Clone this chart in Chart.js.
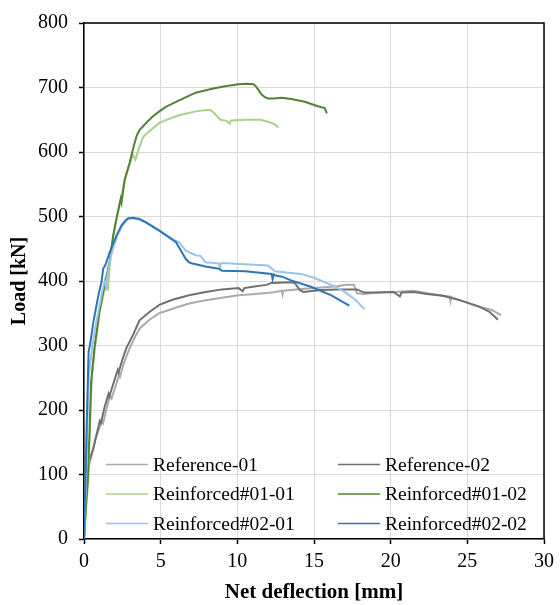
<!DOCTYPE html>
<html>
<head>
<meta charset="utf-8">
<script src="https://cdn.jsdelivr.net/npm/chart.js@4"></script>
<style>
  html, body { margin: 0; padding: 0; background: #fff; }
  #wrap { width: 560px; height: 605px; }
</style>
</head>
<body>
<div id="wrap"><canvas id="c" width="560" height="605"></canvas></div>
<script>
// ---- data (net deflection [mm], load [kN]) ----
const seriesLabels = ['Reference-01', 'Reference-02', 'Reinforced#01-01', 'Reinforced#01-02', 'Reinforced#02-01', 'Reinforced#02-02'];

const ref01X = [0, 0.12, 0.3, 0.5, 0.75, 1.0, 1.2, 1.25, 1.45, 1.7, 1.8, 2.1, 2.3, 2.35, 2.6, 2.98, 3.3, 3.62, 4.27, 4.91, 5.77, 6.85, 7.93, 9.0, 10.08, 11.2, 12.24, 12.9, 12.95, 13.0, 14.4, 15.5, 16.5, 17.1, 17.6, 17.7, 17.8, 18.3, 19.1, 20.2, 21.5, 22.4, 23.4, 23.85, 23.9, 23.95, 24.55, 25.2, 25.8, 26.6, 27.2];
const ref01Y = [0, 70, 112, 130, 155, 172, 183, 180, 200, 222, 218, 240, 256, 252, 273, 296, 312, 326, 340, 350, 357, 365, 370, 374, 378, 380, 382, 385, 379, 385, 388, 390, 392, 394, 394, 388, 381, 380, 382, 383, 385, 381, 377, 376, 369, 375, 370, 365, 360, 355, 347];

const ref02X = [0, 0.1, 0.34, 0.6, 0.85, 1.03, 1.1, 1.35, 1.6, 1.65, 1.9, 2.2, 2.25, 2.5, 2.76, 3.19, 3.62, 4.27, 4.91, 5.77, 6.85, 7.93, 9.0, 10.08, 10.35, 10.45, 11.0, 11.9, 12.24, 13.5, 13.75, 14.07, 14.3, 15.47, 16.5, 17.8, 18.27, 19.13, 20.2, 20.6, 20.7, 21.5, 22.37, 23.4, 24.55, 25.17, 25.8, 26.46, 27.0];
const ref02Y = [0, 70, 121, 140, 165, 183, 180, 205, 225, 221, 240, 262, 258, 278, 296, 316, 339, 352, 363, 371, 378, 383, 387, 389, 384, 389, 391, 394, 397, 398, 397, 386, 383, 386, 387, 387, 382, 382, 383, 376, 382, 383, 380, 377, 370, 365, 360, 352, 340];

const r101X = [0, 0.15, 0.28, 0.39, 0.5, 0.71, 1.03, 1.3, 1.5, 1.55, 1.68, 1.9, 2.11, 2.33, 2.65, 2.97, 3.19, 3.35, 3.5, 3.83, 4.05, 4.91, 5.5, 6.2, 7.28, 8.0, 8.25, 8.5, 8.9, 9.3, 9.5, 9.6, 10.5, 11.5, 12.0, 12.45, 12.67];
const r101Y = [0, 50, 91, 168, 245, 296, 352, 383, 395, 385, 425, 468, 494, 519, 555, 580, 596, 588, 600, 622, 628, 645, 651, 657, 663, 665, 665, 660, 650, 648, 644, 649, 650, 650, 647, 643, 638];

const r102X = [0, 0.12, 0.25, 0.36, 0.47, 0.68, 1.0, 1.25, 1.45, 1.68, 1.9, 2.11, 2.33, 2.4, 2.45, 2.65, 2.97, 3.15, 3.3, 3.45, 3.62, 4.05, 4.48, 4.91, 5.34, 6.2, 7.28, 8.36, 9.2, 10.08, 10.6, 11.05, 11.2, 11.35, 11.55, 11.8, 12.0, 12.4, 12.9, 13.5, 14.0, 14.4, 15.25, 15.7, 15.84];
const r102Y = [0, 50, 91, 168, 245, 296, 352, 383, 405, 432, 470, 496, 521, 528, 522, 557, 583, 600, 614, 626, 634, 645, 655, 663, 670, 680, 692, 698, 702, 705, 706, 705, 702, 697, 690, 685, 683, 683, 684, 682, 680, 678, 671, 668, 660];

const r201X = [0, 0.15, 0.25, 0.35, 0.4, 0.55, 0.75, 1.0, 1.2, 1.35, 1.45, 1.5, 1.75, 2.0, 2.2, 2.5, 2.9, 3.2, 3.62, 4.05, 4.91, 6.0, 6.2, 6.64, 7.28, 7.6, 7.92, 8.5, 8.8, 8.86, 8.92, 9.0, 10.5, 12.0, 12.45, 13.2, 14.17, 15.0, 15.7, 16.4, 17.0, 17.7, 18.3];
const r201Y = [0, 100, 200, 278, 270, 300, 330, 360, 385, 400, 392, 405, 438, 458, 472, 486, 497, 497, 495, 490, 478, 462, 460, 447, 440, 439, 429, 428, 427, 421, 427, 428, 426, 424, 415, 413, 411, 405, 398, 391, 383, 371, 356];

const r202X = [0, 0.1, 0.2, 0.3, 0.38, 0.5, 0.6, 0.82, 1.0, 1.14, 1.25, 1.4, 1.68, 1.9, 2.11, 2.44, 2.7, 2.87, 3.2, 3.62, 4.05, 4.91, 6.0, 6.2, 6.64, 6.85, 7.07, 8.0, 8.8, 9.0, 10.5, 12.24, 12.3, 12.38, 12.45, 13.0, 13.5, 14.8, 16.1, 17.3];
const r202Y = [0, 100, 200, 290, 300, 318, 335, 363, 385, 398, 419, 425, 445, 458, 470, 486, 494, 497, 498, 496, 491, 478, 460, 452, 434, 429, 427, 422, 419, 416, 415, 411, 403, 410, 409, 406, 401, 391, 378, 362];

const xTicks = [0, 5, 10, 15, 20, 25, 30];
const yTicks = [0, 100, 200, 300, 400, 500, 600, 700, 800];

const seriesX = [ref01X, ref02X, r101X, r102X, r201X, r202X];
const seriesY = [ref01Y, ref02Y, r101Y, r102Y, r201Y, r202Y];
const seriesColors = ['#ababab', '#707070', '#a9d18e', '#548235', '#9dc3e6', '#2e75b6'];

const datasets = seriesLabels.map((lab, i) => ({
  label: lab,
  data: seriesX[i].map((x, k) => ({ x: x, y: seriesY[i][k] })),
  borderColor: seriesColors[i],
  backgroundColor: seriesColors[i],
  borderWidth: 2,
  pointRadius: 0,
  showLine: true,
  tension: 0,
  fill: false,
  order: 6 - i
}));

const serif = "'Liberation Serif', 'Times New Roman', serif";

const framePlugin = {
  id: 'frameAndLegend',
  afterDatasetsDraw(chart) {
    const { ctx, chartArea: a } = chart;
    ctx.save();
    ctx.strokeStyle = '#000';
    ctx.lineWidth = 1.5;
    ctx.beginPath();
    ctx.moveTo(a.left, a.top);
    ctx.lineTo(a.right, a.top);
    ctx.lineTo(a.right, a.bottom);
    ctx.stroke();

    // legend (two columns, three rows) inside plot area
    const colX = [106, 338];
    const rowY = [464.5, 494, 523.5];
    ctx.font = '19.5px ' + serif;
    ctx.textBaseline = 'middle';
    ctx.textAlign = 'left';
    chart.data.datasets.forEach((ds, i) => {
      const cx = colX[i % 2];
      const cy = rowY[Math.floor(i / 2)];
      ctx.strokeStyle = ds.borderColor;
      ctx.lineWidth = 1.6;
      ctx.beginPath();
      ctx.moveTo(cx, cy);
      ctx.lineTo(cx + 42, cy);
      ctx.stroke();
      ctx.fillStyle = '#000';
      ctx.fillText(ds.label, cx + 47, cy + 1);
    });
    ctx.restore();
  }
};

new Chart(document.getElementById('c'), {
  type: 'scatter',
  data: { datasets: datasets },
  plugins: [framePlugin],
  options: {
    responsive: false,
    animation: false,
    devicePixelRatio: 1,
    layout: { padding: { top: 16, right: 12, left: 0, bottom: 0 } },
    plugins: { legend: { display: false }, tooltip: { enabled: false } },
    scales: {
      x: {
        type: 'linear',
        min: 0, max: 30,
        afterFit: (s) => { s.height = 66; },
        afterBuildTicks: (s) => { s.ticks = xTicks.map(v => ({ value: v })); },
        grid: { color: '#d9d9d9', lineWidth: 1, tickColor: '#000', tickLength: 5, tickWidth: 1.5 },
        border: { color: '#000', width: 1.5 },
        ticks: { color: '#000', font: { family: serif, size: 20 }, padding: 6, maxRotation: 0 },
        title: { display: true, text: 'Net deflection [mm]', color: '#000', font: { family: serif, size: 21, weight: 'bold' }, padding: { top: 0, bottom: 0 } }
      },
      y: {
        type: 'linear',
        min: 0, max: 800,
        afterFit: (s) => { s.width = 84; },
        afterBuildTicks: (s) => { s.ticks = yTicks.map(v => ({ value: v })); },
        grid: { color: '#d9d9d9', lineWidth: 1, tickColor: '#000', tickLength: 5, tickWidth: 1.5 },
        border: { color: '#000', width: 1.5 },
        ticks: { color: '#000', font: { family: serif, size: 20 }, padding: 11 },
        title: { display: true, text: 'Load [kN]', color: '#000', font: { family: serif, size: 20, weight: 'bold' }, padding: { top: 8, bottom: 0 } }
      }
    }
  }
});
</script>
</body>
</html>
